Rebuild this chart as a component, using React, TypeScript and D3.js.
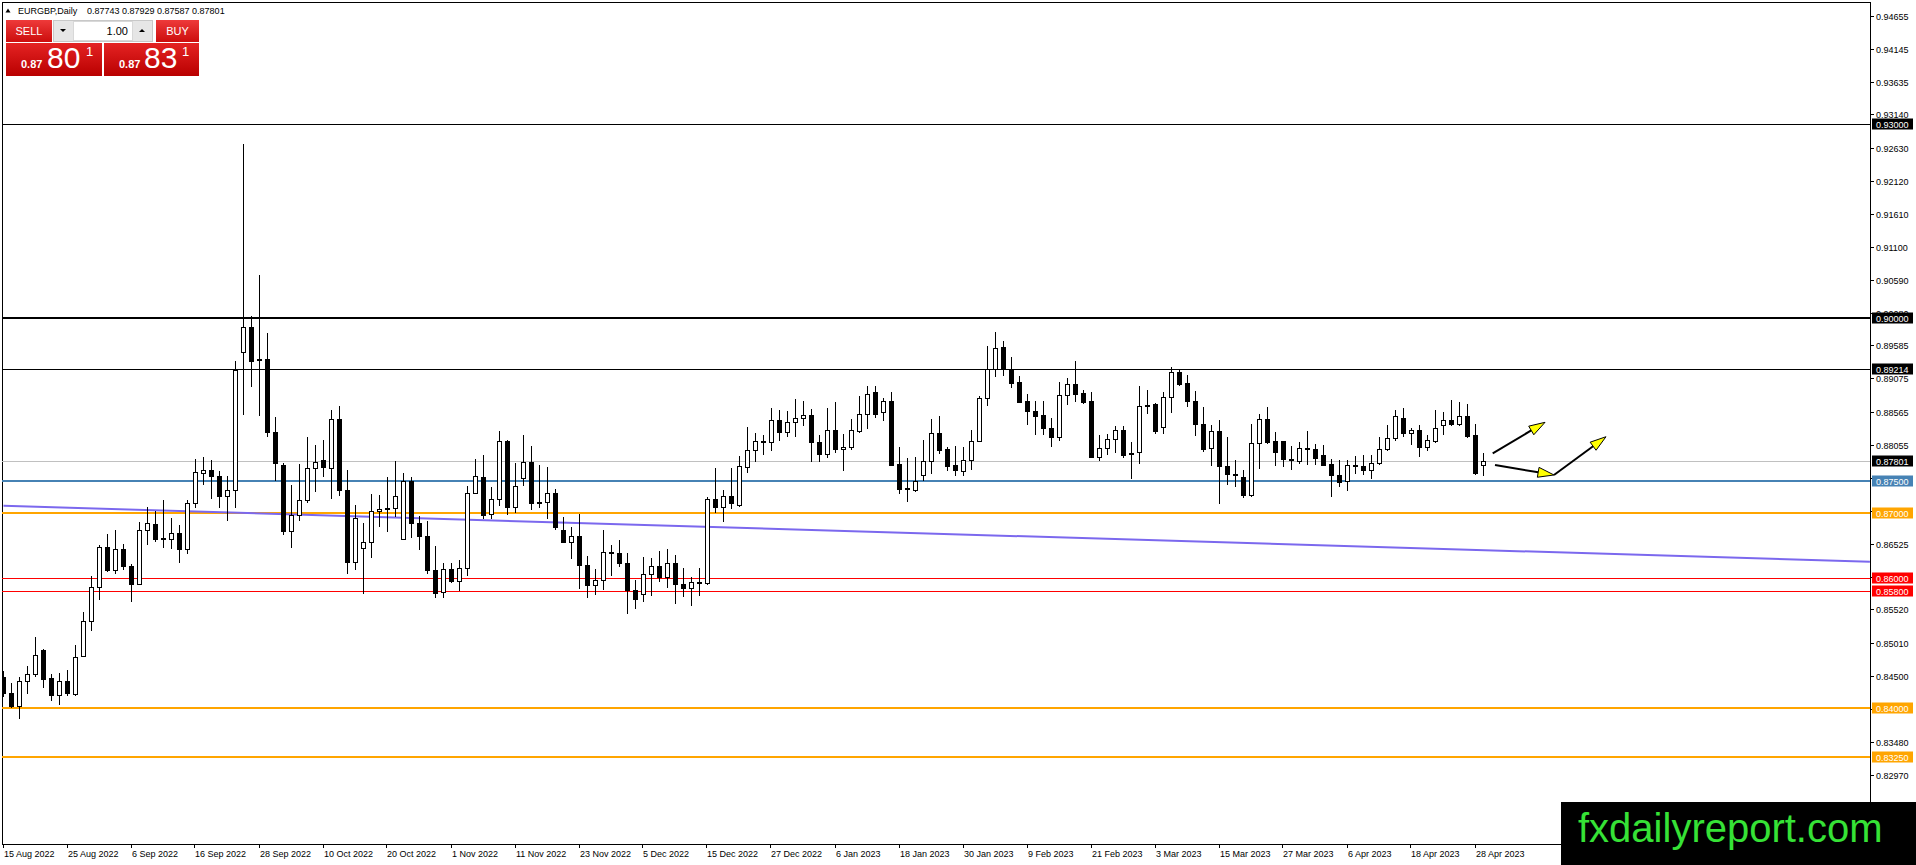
import React from "react";
import * as d3 from "d3";

const W = 1916;
const H = 865;

const symbol = "EURGBP,Daily";
const lastQuote = [0.87743, 0.87929, 0.87587, 0.87801];

// daily candles, 15 Aug 2022 .. 1 May 2023
const opens = [
  0.84472, 0.84236, 0.84029, 0.84413, 0.84531, 0.84897, 0.8446, 0.84206, 0.84425, 0.84224,
  0.84808, 0.85345, 0.8587, 0.86478, 0.86124, 0.86442, 0.86183, 0.85917, 0.86737, 0.86831,
  0.86625, 0.86607, 0.86696, 0.86442, 0.87156, 0.87617, 0.87664, 0.87581, 0.87262, 0.87357,
  0.89487, 0.89872, 0.89368, 0.89368, 0.88252, 0.87743, 0.8672, 0.86977, 0.87208, 0.87697,
  0.87825, 0.87697, 0.88453, 0.87363, 0.86257, 0.86463, 0.8655, 0.87029, 0.8708, 0.8708,
  0.86602, 0.87491, 0.86849, 0.86653, 0.86119, 0.85795, 0.86139, 0.85964, 0.86155, 0.87311,
  0.87558, 0.86988, 0.87213, 0.88109, 0.87101, 0.87546, 0.87787, 0.87152, 0.87178, 0.87306,
  0.86742, 0.86563, 0.8665, 0.86205, 0.85898, 0.85975, 0.8641, 0.86384, 0.86241, 0.85811,
  0.8576, 0.86062, 0.86195, 0.86026, 0.86231, 0.85913, 0.85846, 0.85939, 0.85923, 0.87213,
  0.87101, 0.8727, 0.87134, 0.87714, 0.87973, 0.88112, 0.88092, 0.88438, 0.88257, 0.88407,
  0.88464, 0.88511, 0.88097, 0.8791, 0.88283, 0.87983, 0.88024, 0.88273, 0.88526, 0.88862,
  0.88552, 0.88723, 0.87755, 0.87388, 0.87362, 0.87595, 0.87802, 0.88231, 0.87988, 0.8774,
  0.87652, 0.87817, 0.88112, 0.88775, 0.89214, 0.8956, 0.89214, 0.89018, 0.88723, 0.88579,
  0.88507, 0.8831, 0.88171, 0.88816, 0.88992, 0.88852, 0.88723, 0.87872, 0.88001, 0.88145,
  0.88284, 0.87923, 0.87939, 0.88672, 0.88682, 0.88321, 0.88794, 0.89173, 0.89002, 0.88723,
  0.88378, 0.88011, 0.88259, 0.87727, 0.876, 0.8756, 0.87277, 0.88088, 0.88458, 0.88109,
  0.88109, 0.87842, 0.87806, 0.88012, 0.87996, 0.87893, 0.87765, 0.87585, 0.87493, 0.8775,
  0.87724, 0.87673, 0.8778, 0.87996, 0.8816, 0.88474, 0.88242, 0.88279, 0.88022, 0.88114,
  0.88366, 0.88433, 0.88381, 0.88494, 0.88202, 0.87743,
];
const highs = [
  0.8457, 0.84383, 0.84472, 0.84649, 0.85091, 0.84914, 0.84519, 0.84543, 0.8459, 0.84973,
  0.85475, 0.86035, 0.86507, 0.86684, 0.86743, 0.86525, 0.86212, 0.86867, 0.87097, 0.87038,
  0.87198, 0.8692, 0.86813, 0.87198, 0.87835, 0.87864, 0.87823, 0.87658, 0.87581, 0.89339,
  0.92685, 0.90036, 0.90663, 0.89779, 0.88483, 0.8777, 0.8744, 0.87764, 0.88175, 0.88057,
  0.88134, 0.88597, 0.88658, 0.87661, 0.87131, 0.86849, 0.87301, 0.87286, 0.87558, 0.878,
  0.8762, 0.87558, 0.86951, 0.86874, 0.86499, 0.86232, 0.86232, 0.86283, 0.87414, 0.87836,
  0.87902, 0.87408, 0.88263, 0.88135, 0.87766, 0.88201, 0.88032, 0.87736, 0.87705, 0.87367,
  0.86947, 0.86783, 0.86988, 0.86343, 0.86139, 0.86742, 0.86512, 0.86589, 0.86394, 0.85975,
  0.86323, 0.86307, 0.8642, 0.86446, 0.86359, 0.86154, 0.86026, 0.86154, 0.87254, 0.8769,
  0.87357, 0.8769, 0.87879, 0.88324, 0.88231, 0.88205, 0.88619, 0.88593, 0.88578, 0.88759,
  0.88733, 0.88604, 0.88205, 0.88619, 0.88707, 0.88216, 0.88448, 0.88811, 0.88955, 0.88966,
  0.88774, 0.88862, 0.88024, 0.87854, 0.87859, 0.88128, 0.88454, 0.885, 0.88024, 0.88035,
  0.88014, 0.88283, 0.88811, 0.89575, 0.89797, 0.89653, 0.89405, 0.89111, 0.88837, 0.88723,
  0.88734, 0.88465, 0.89023, 0.89085, 0.89343, 0.88904, 0.88868, 0.88207, 0.88218, 0.88345,
  0.88345, 0.88104, 0.88956, 0.88904, 0.88698, 0.88868, 0.8925, 0.89214, 0.89126, 0.88889,
  0.88631, 0.88352, 0.88434, 0.88181, 0.87816, 0.87673, 0.88381, 0.88525, 0.88638, 0.88248,
  0.88109, 0.88042, 0.88094, 0.88263, 0.88073, 0.88047, 0.87842, 0.87827, 0.87827, 0.87878,
  0.87893, 0.87893, 0.88176, 0.88366, 0.88587, 0.88617, 0.8832, 0.88356, 0.88202, 0.88597,
  0.88561, 0.88741, 0.88715, 0.88689, 0.88381, 0.87929,
];
const lows = [
  0.8418, 0.84011, 0.83852, 0.84236, 0.84501, 0.84324, 0.8413, 0.84059, 0.84206, 0.842,
  0.84808, 0.85209, 0.85681, 0.86112, 0.86083, 0.86141, 0.85652, 0.85917, 0.86519, 0.86566,
  0.86478, 0.8646, 0.86242, 0.86384, 0.87097, 0.87451, 0.87233, 0.87097, 0.86902, 0.87097,
  0.88525, 0.88956, 0.88509, 0.88185, 0.87517, 0.86684, 0.86478, 0.869, 0.87167, 0.87337,
  0.87568, 0.87234, 0.87286, 0.86078, 0.86139, 0.85769, 0.86319, 0.86797, 0.8672, 0.86962,
  0.86602, 0.86633, 0.86448, 0.86078, 0.85707, 0.85707, 0.85934, 0.8582, 0.86052, 0.87311,
  0.86926, 0.86922, 0.87126, 0.86988, 0.87024, 0.87434, 0.8706, 0.87101, 0.86932, 0.86753,
  0.86563, 0.86307, 0.85846, 0.85708, 0.8576, 0.85836, 0.86051, 0.8619, 0.85463, 0.85539,
  0.85642, 0.85744, 0.85964, 0.85872, 0.85616, 0.85719, 0.85591, 0.85744, 0.85908, 0.87024,
  0.86878, 0.87075, 0.87104, 0.87636, 0.87807, 0.8791, 0.87973, 0.88128, 0.8819, 0.8819,
  0.88361, 0.87807, 0.87807, 0.87859, 0.87947, 0.87673, 0.87988, 0.88257, 0.88309, 0.8848,
  0.88438, 0.8774, 0.8731, 0.87186, 0.87341, 0.87507, 0.87626, 0.87931, 0.87673, 0.87585,
  0.87585, 0.87688, 0.88112, 0.88672, 0.89111, 0.89126, 0.8894, 0.88713, 0.88371, 0.88218,
  0.88218, 0.88037, 0.8813, 0.88682, 0.88723, 0.88698, 0.87861, 0.8782, 0.87908, 0.87949,
  0.87872, 0.87536, 0.87768, 0.88543, 0.88233, 0.88233, 0.88558, 0.88982, 0.88646, 0.88207,
  0.87959, 0.87742, 0.87164, 0.87458, 0.87416, 0.87252, 0.87262, 0.87698, 0.88083, 0.8775,
  0.87729, 0.87678, 0.8778, 0.87765, 0.87765, 0.87739, 0.87267, 0.87416, 0.87365, 0.87621,
  0.87611, 0.87544, 0.87765, 0.87981, 0.88135, 0.88186, 0.88073, 0.87883, 0.8797, 0.88099,
  0.88217, 0.88356, 0.88356, 0.88176, 0.87601, 0.87587,
];
const closes = [
  0.84236, 0.84029, 0.84413, 0.84531, 0.84814, 0.84454, 0.84206, 0.84425, 0.84236, 0.8479,
  0.85345, 0.8587, 0.86478, 0.86124, 0.86442, 0.86183, 0.85917, 0.86737, 0.86849, 0.86596,
  0.86596, 0.86696, 0.86442, 0.87156, 0.8764, 0.87664, 0.87581, 0.87262, 0.87357, 0.89209,
  0.8987, 0.89342, 0.89352, 0.88247, 0.87774, 0.8672, 0.86972, 0.87208, 0.87697, 0.87795,
  0.87712, 0.88453, 0.87363, 0.86257, 0.86926, 0.8655, 0.87029, 0.87064, 0.87064, 0.8726,
  0.87491, 0.86849, 0.86653, 0.86119, 0.85769, 0.86139, 0.85964, 0.86155, 0.87311, 0.87568,
  0.86977, 0.87213, 0.88109, 0.87101, 0.87423, 0.87787, 0.87152, 0.87178, 0.87306, 0.86794,
  0.86563, 0.8665, 0.86205, 0.85898, 0.85975, 0.8641, 0.86384, 0.86241, 0.85811, 0.85678,
  0.86062, 0.86195, 0.86026, 0.86231, 0.85908, 0.85846, 0.85939, 0.85923, 0.87213, 0.87101,
  0.8727, 0.87152, 0.87724, 0.87973, 0.88112, 0.88097, 0.88438, 0.88257, 0.88407, 0.88464,
  0.88511, 0.88102, 0.8791, 0.88283, 0.87983, 0.88024, 0.88283, 0.88526, 0.88836, 0.88526,
  0.88723, 0.8774, 0.87367, 0.87367, 0.87497, 0.87802, 0.88231, 0.87973, 0.87724, 0.87662,
  0.87817, 0.88112, 0.88774, 0.89214, 0.89539, 0.89214, 0.89011, 0.88713, 0.88579, 0.88491,
  0.8831, 0.88171, 0.88816, 0.88992, 0.88837, 0.88713, 0.87861, 0.88001, 0.88145, 0.88284,
  0.87897, 0.87908, 0.88656, 0.88656, 0.88259, 0.88794, 0.89173, 0.88997, 0.88723, 0.88378,
  0.8799, 0.88259, 0.87727, 0.87598, 0.8759, 0.87277, 0.88088, 0.88458, 0.88099, 0.87945,
  0.87837, 0.87827, 0.88012, 0.87991, 0.87857, 0.8775, 0.87596, 0.87483, 0.8775, 0.87734,
  0.87673, 0.8778, 0.87996, 0.88165, 0.88494, 0.88242, 0.88279, 0.88022, 0.88124, 0.8832,
  0.88433, 0.88371, 0.88494, 0.88186, 0.87621, 0.87801,
];

// one date label every 8 bars
const dateLabels = [
  "15 Aug 2022", "25 Aug 2022", "6 Sep 2022", "16 Sep 2022", "28 Sep 2022", "10 Oct 2022",
  "20 Oct 2022", "1 Nov 2022", "11 Nov 2022", "23 Nov 2022", "5 Dec 2022", "15 Dec 2022",
  "27 Dec 2022", "6 Jan 2023", "18 Jan 2023", "30 Jan 2023", "9 Feb 2023", "21 Feb 2023",
  "3 Mar 2023", "15 Mar 2023", "27 Mar 2023", "6 Apr 2023", "18 Apr 2023", "28 Apr 2023",
];
const labelStep = 8;

const priceTicks = [
  0.94655, 0.94145, 0.93635, 0.9314, 0.9263, 0.9212, 0.9161, 0.911, 0.9059, 0.9008, 0.89585,
  0.89075, 0.88565, 0.88055, 0.87545, 0.87035, 0.86525, 0.86015, 0.8552, 0.8501, 0.845,
  0.8399, 0.8348, 0.8297,
];

// horizontal levels drawn on the chart
const levels = [0.93, 0.9, 0.89214, 0.87801, 0.875, 0.87, 0.86, 0.858, 0.84, 0.8325];

// sloping trend line (bar index, price)
const trendBars = [0, 233.3];
const trendPrices = [0.87115, 0.86254];

// yellow arrows: [bar, price] -> [bar, price]
const arrowFrom = [[186.15, 0.87923], [186.44, 0.87743], [193.81, 0.87589]];
const arrowTo = [[192.69, 0.884], [193.81, 0.87589], [200.31, 0.88178]];

const levelStyle: Record<string, { stroke: string; width: number; box: string }> = {
  "0.93": { stroke: "#000", width: 1, box: "#000" },
  "0.9": { stroke: "#000", width: 2, box: "#000" },
  "0.89214": { stroke: "#000", width: 1, box: "#000" },
  "0.87801": { stroke: "#c0c0c0", width: 1, box: "#000" },
  "0.875": { stroke: "#4682b4", width: 2, box: "#4682b4" },
  "0.87": { stroke: "#ffa500", width: 2, box: "#ffa500" },
  "0.86": { stroke: "#ff0000", width: 1, box: "#ff0000" },
  "0.858": { stroke: "#ff0000", width: 1, box: "#ff0000" },
  "0.84": { stroke: "#ffa500", width: 2, box: "#ffa500" },
  "0.8325": { stroke: "#ffa500", width: 2, box: "#ffa500" },
};

const FONT = "'Liberation Sans', Arial, sans-serif";

const plot = { left: 2, top: 2, right: 1870, bottom: 844 };

export default function App() {
  const x = d3.scaleLinear().domain([0, 233.3125]).range([3.5, plot.right]);
  const y = d3.scaleLinear().domain([0.81908, 0.94871]).range([plot.bottom, plot.top]);
  const f5 = d3.format(".5f");
  const crisp = (v: number) => Math.round(v) + 0.5;

  const trendLine = d3
    .line<number>()
    .x((b) => x(b))
    .y((_, i) => y(trendPrices[i]));

  const arrows = arrowFrom.map((from, i) => {
    const to = arrowTo[i];
    const x1 = x(from[0]), y1 = y(from[1]);
    const x2 = x(to[0]), y2 = y(to[1]);
    const len = Math.hypot(x2 - x1, y2 - y1);
    const ux = (x2 - x1) / len, uy = (y2 - y1) / len;
    const bx = x2 - ux * 16, by = y2 - uy * 16;
    const head = [
      [x2, y2],
      [bx - uy * 5, by + ux * 5],
      [bx + uy * 5, by - ux * 5],
    ];
    return { x1, y1, bx, by, head };
  });

  return (
    <svg
      width={W}
      height={H}
      style={{ position: "absolute", left: 0, top: 0, display: "block", background: "#fff" }}
      fontFamily={FONT}
    >
      <defs>
        <linearGradient id="redTop" x1="0" y1="0" x2="0" y2="1">
          <stop offset="0" stopColor="#ee3a3a" />
          <stop offset="1" stopColor="#cc0d0d" />
        </linearGradient>
        <linearGradient id="redBig" x1="0" y1="0" x2="0" y2="1">
          <stop offset="0" stopColor="#e42323" />
          <stop offset="1" stopColor="#b90000" />
        </linearGradient>
        <clipPath id="plotClip">
          <rect x={plot.left} y={plot.top} width={plot.right - plot.left} height={plot.bottom - plot.top} />
        </clipPath>
      </defs>

      {/* frame */}
      <rect
        x={plot.left + 0.5}
        y={plot.top + 0.5}
        width={plot.right - plot.left}
        height={plot.bottom - plot.top}
        fill="#fff"
        stroke="#000"
      />

      <g clipPath="url(#plotClip)">
        {levels.map((p) => {
          const s = levelStyle[String(p)];
          const yy = s.width === 1 ? crisp(y(p)) : Math.round(y(p));
          return (
            <line key={p} x1={plot.left} x2={plot.right} y1={yy} y2={yy} stroke={s.stroke} strokeWidth={s.width} />
          );
        })}

        <path d={trendLine(trendBars) || ""} stroke="#7b68ee" strokeWidth={2} fill="none" />

        {closes.map((c, i) => {
          const o = opens[i];
          const cx = x(i);
          const top = crisp(y(Math.max(o, c)));
          const bot = crisp(y(Math.min(o, c)));
          const bull = c >= o;
          return (
            <g key={i}>
              <line x1={cx} x2={cx} y1={Math.round(y(highs[i]))} y2={Math.round(y(lows[i])) + 1} stroke="#000" />
              <rect x={cx - 2} y={top} width={4} height={bot - top} fill={bull ? "#fff" : "#000"} stroke="#000" />
            </g>
          );
        })}

        {arrows.map((a, i) => (
          <g key={i}>
            <line x1={a.x1} y1={a.y1} x2={a.bx} y2={a.by} stroke="#000" strokeWidth={2} />
            <polygon points={a.head.map((p) => p.join(",")).join(" ")} fill="#ffff00" stroke="#000" strokeWidth={1} />
          </g>
        ))}
      </g>

      {/* price axis */}
      <line x1={plot.right + 0.5} x2={plot.right + 0.5} y1={plot.top} y2={plot.bottom} stroke="#000" />
      {priceTicks.map((p) => {
        const yy = crisp(y(p));
        return (
          <g key={p}>
            <line x1={plot.right} x2={plot.right + 4} y1={yy} y2={yy} stroke="#000" />
            <text x={plot.right + 6} y={yy + 3.2} fontSize={9} fill="#000">
              {f5(p)}
            </text>
          </g>
        );
      })}
      {levels.map((p) => {
        const s = levelStyle[String(p)];
        const yy = Math.round(y(p));
        return (
          <g key={"lb" + p}>
            <rect x={plot.right + 2} y={yy - 5.5} width={41} height={11} fill={s.box} />
            <text x={plot.right + 6} y={yy + 3.5} fontSize={9} fill="#fff">
              {f5(p)}
            </text>
          </g>
        );
      })}

      {/* time axis */}
      {dateLabels.map((d, i) => {
        const tx = Math.round(x(i * labelStep)) - 0.5;
        return (
          <g key={d}>
            <line x1={tx} x2={tx} y1={plot.bottom} y2={plot.bottom + 4} stroke="#000" />
            <text x={tx + 0.5} y={857} fontSize={9} fill="#000">
              {d}
            </text>
          </g>
        );
      })}

      {/* header */}
      <polygon points="5.5,12.5 10.5,12.5 8,8.5" fill="#000" />
      <text x={18} y={14} fontSize={9} fill="#000">
        {symbol}
      </text>
      <text x={87} y={14} fontSize={9} fill="#000">
        {lastQuote.map((q) => f5(q)).join(" ")}
      </text>

      {/* one-click trading panel */}
      <g>
        <rect x={6} y={20} width={46} height={22} fill="url(#redTop)" />
        <text x={29} y={35} fontSize={11} fill="#fff" textAnchor="middle">
          SELL
        </text>
        <rect x={53.5} y={20.5} width={99} height={21} fill="#f4f4f4" stroke="#c8c8c8" />
        <rect x={54} y={21} width={19} height={20} fill="#e6e6e6" />
        <polygon points="60,29 66,29 63,32" fill="#000" />
        <rect x={73.5} y={21.5} width={59} height={19} fill="#fff" stroke="#d8d8d8" />
        <text x={128} y={35} fontSize={11} fill="#000" textAnchor="end">
          1.00
        </text>
        <rect x={133} y={21} width={19} height={20} fill="#e6e6e6" />
        <polygon points="139,32 145,32 142,29" fill="#000" />
        <rect x={156} y={20} width={43} height={22} fill="url(#redTop)" />
        <text x={177.5} y={35} fontSize={11} fill="#fff" textAnchor="middle">
          BUY
        </text>

        <rect x={6} y={43} width={96} height={33} fill="url(#redBig)" />
        <rect x={104} y={43} width={95} height={33} fill="url(#redBig)" />
        <text x={21} y={68} fontSize={11} fontWeight="bold" fill="#fff">
          0.87
        </text>
        <text x={47} y={68} fontSize={30} fill="#fff">
          80
        </text>
        <text x={86} y={56} fontSize={13} fill="#fff">
          1
        </text>
        <text x={119} y={68} fontSize={11} fontWeight="bold" fill="#fff">
          0.87
        </text>
        <text x={144} y={68} fontSize={30} fill="#fff">
          83
        </text>
        <text x={182} y={56} fontSize={13} fill="#fff">
          1
        </text>
      </g>

      {/* watermark */}
      <rect x={1561} y={802} width={W - 1561} height={H - 802} fill="#000" />
      <text x={1578} y={842} fontSize={40} fill="#36e236" fontFamily={FONT}>
        fxdailyreport.com
      </text>
    </svg>
  );
}
